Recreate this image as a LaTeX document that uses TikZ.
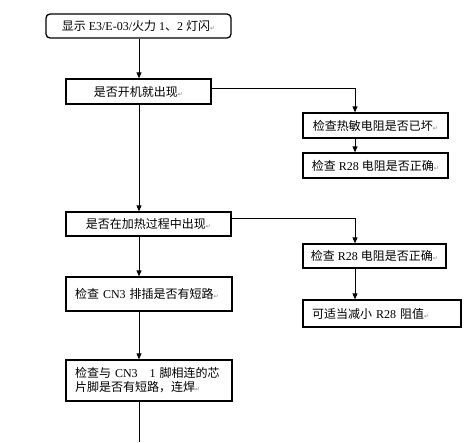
\documentclass[tikz,border=0pt]{standalone}
\usepackage{fontspec}
\setmainfont{Liberation Serif}
\newfontfamily\cjk{Noto Sans CJK SC}
\newfontfamily\symf{DejaVu Sans}
\usetikzlibrary{arrows.meta}
\newcommand{\z}[1]{{\cjk #1}}
\newcommand{\rmark}{{\symf\fontsize{6}{6}\selectfont\color{gray}↵}}
\begin{document}
\begin{tikzpicture}[x=1pt,y=-1pt,
  box/.style={draw=black,line width=1.3pt,rectangle,inner sep=0pt,font=\fontsize{12}{14}\selectfont},
  conn/.style={draw=black,line width=0.8pt},
  arr/.style={conn,-{Triangle[length=6pt,width=5pt]}}]
\useasboundingbox (0,0) rectangle (476,442);
\fill[white] (0,0) rectangle (476,442);
\node[box,rounded corners=4pt,minimum width=185pt,minimum height=24pt] (b1) at (138.5,26) {\z{显示} E3/E-03/\z{火力} 1\z{、}2 \z{灯闪}\rmark};
\node[box,minimum width=145pt,minimum height=25pt] (b2) at (138.5,91.5) {\z{是否开机就出现}\rmark};
\node[box,minimum width=145pt,minimum height=25pt] (b3) at (375.5,125.5) {\z{检查热敏电阻是否已坏}\rmark};
\node[box,minimum width=145pt,minimum height=25pt] (b4) at (375.5,165.5) {\z{检查} R28 \z{电阻是否正确}\rmark};
\node[box,minimum width=165pt,minimum height=24pt] (b5) at (148.5,224) {\z{是否在加热过程中出现}\rmark};
\node[box,minimum width=143pt,minimum height=24pt] (b6) at (374.5,256) {\z{检查} R28 \z{电阻是否正确}\rmark};
\node[box,minimum width=158pt,minimum height=27pt,text width=140pt,inner xsep=9pt,align=left] (b7) at (382,313.5) {\z{可适当减小} R28 \z{阻值}\rmark};
\node[box,minimum width=166pt,minimum height=34pt,text width=148pt,inner xsep=9pt,align=left] (b8) at (149,294) {\z{检查} CN3 \z{排插是否有短路}\rmark};
\node[box,minimum width=166pt,minimum height=41pt,text width=148pt,inner xsep=9pt,align=left] (b9) at (149,380.5) {\z{检查与} CN3\quad 1 \z{脚相连的芯}\\\z{片脚是否有短路，连焊}\rmark};
\coordinate (c1) at (355,88);
\coordinate (c2) at (355,218);
\coordinate (m) at (139,0);
\coordinate (end) at (139,442);
\draw[arr] (b1.south -| m) -- (b2.north -| m);
\draw[arr] (b2.east |- c1) -- (c1) -- (c1 |- b3.north);
\draw[arr] (c1 |- b3.south) -- (c1 |- b4.north);
\draw[arr] (b2.south -| m) -- (b5.north -| m);
\draw[arr] (b5.east |- c2) -- (c2) -- (c2 |- b6.north);
\draw[arr] (c2 |- b6.south) -- (c2 |- b7.north);
\draw[arr] (b5.south -| m) -- (b8.north -| m);
\draw[arr] (b8.south -| m) -- (b9.north -| m);
\draw[conn] (b9.south -| m) -- (end);
\end{tikzpicture}
\end{document}
